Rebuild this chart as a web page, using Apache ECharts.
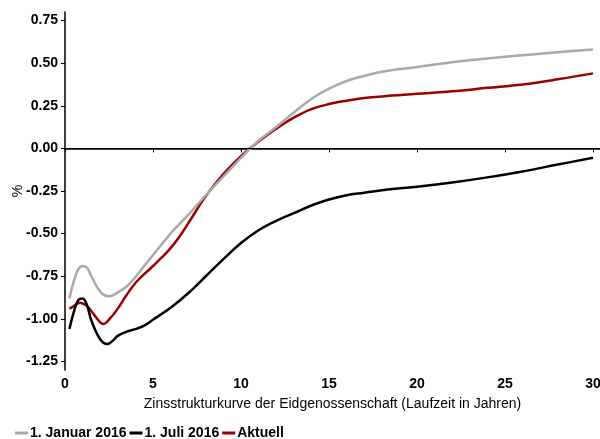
<!DOCTYPE html>
<html>
<head>
<meta charset="utf-8">
<script src="https://cdn.jsdelivr.net/npm/echarts@6/dist/echarts.min.js"></script>
<style>
    html, body { margin: 0; padding: 0; background: #fff; }
    #chart { width: 600px; height: 439px; }
</style>
</head>
<body>
<div id="chart"></div>
<script>
    // Laufzeit in Jahren
    var janX = [0.25, 0.5, 0.75, 1, 1.25, 1.5, 2, 2.5, 3, 3.5, 4, 4.5, 5, 5.5, 6, 7, 8, 9, 10, 11, 12, 13, 14, 15, 16, 17, 18, 20, 22, 24, 26, 28, 30];
    var janY = [-0.88, -0.78, -0.71, -0.69, -0.70, -0.75, -0.84, -0.868, -0.845, -0.81, -0.755, -0.69, -0.625, -0.562, -0.50, -0.39, -0.275, -0.165, -0.055, 0.045, 0.125, 0.21, 0.29, 0.35, 0.395, 0.425, 0.45, 0.478, 0.505, 0.527, 0.547, 0.564, 0.58];

    var julX = [0.25, 0.5, 0.75, 1, 1.25, 1.5, 2, 2.4, 2.75, 3, 3.5, 4, 4.5, 5, 6, 7, 8, 9, 10, 11, 12, 13, 14, 15, 16, 17, 18, 20, 22, 24, 26, 28, 30];
    var julY = [-1.06, -0.96, -0.89, -0.88, -0.92, -1.01, -1.12, -1.148, -1.125, -1.10, -1.075, -1.06, -1.04, -1.005, -0.935, -0.85, -0.75, -0.65, -0.555, -0.48, -0.425, -0.38, -0.335, -0.30, -0.275, -0.26, -0.245, -0.225, -0.20, -0.17, -0.135, -0.095, -0.055];

    var aktX = [0.25, 0.5, 0.85, 1.25, 1.5, 2, 2.2, 2.5, 3, 3.5, 4, 4.5, 5, 5.5, 6, 6.5, 7, 8, 9, 10, 11, 12, 13, 14, 15, 16, 17, 18, 20, 22, 24, 26, 28, 30];
    var aktY = [-0.94, -0.925, -0.905, -0.925, -0.955, -1.02, -1.03, -1.005, -0.94, -0.86, -0.79, -0.738, -0.69, -0.64, -0.585, -0.518, -0.44, -0.28, -0.15, -0.045, 0.04, 0.115, 0.18, 0.23, 0.26, 0.28, 0.295, 0.305, 0.32, 0.335, 0.355, 0.375, 0.405, 0.44];

    var xTicks = [0, 5, 10, 15, 20, 25, 30];
    var yTicks = [-1.25, -1, -0.75, -0.5, -0.25, 0, 0.25, 0.5, 0.75];

    function pairs(xs, ys) {
        var out = [];
        for (var i = 0; i < xs.length; i++) {
            out.push([xs[i], ys[i]]);
        }
        return out;
    }

    var font = '"Liberation Sans", Arial, sans-serif';

    var myChart = echarts.init(document.getElementById('chart'));
    myChart.setOption({
        animation: false,
        textStyle: { fontFamily: font },
        grid: { left: 65, right: 0, top: 12, bottom: 69, outerBoundsMode: 'none', containLabel: false },
        legend: {
            left: 15,
            top: 426,
            padding: 0,
            icon: 'rect',
            itemWidth: 13,
            itemHeight: 3,
            itemGap: 3,
            textStyle: { fontFamily: font, fontWeight: 'bold', fontSize: 14, color: '#000', padding: [0, 0, 0, -3] },
            data: ['1. Januar 2016', '1. Juli 2016', 'Aktuell']
        },
        xAxis: {
            type: 'value',
            min: 0,
            max: 30.4,
            name: 'Zinsstrukturkurve der Eidgenossenschaft (Laufzeit in Jahren)',
            nameLocation: 'middle',
            nameGap: 27,
            nameMoveOverlap: false,
            nameTextStyle: { fontFamily: font, fontSize: 14, color: '#000' },
            splitLine: { show: false },
            axisLine: { lineStyle: { color: '#000', width: 1.5 } },
            axisTick: { show: true, length: 4, lineStyle: { color: '#000' }, customValues: xTicks },
            axisLabel: { customValues: xTicks, fontFamily: font, fontWeight: 'bold', fontSize: 14, color: '#000', margin: 7 }
        },
        yAxis: {
            type: 'value',
            min: -1.3,
            max: 0.8,
            name: '%',
            nameLocation: 'middle',
            nameRotate: 90,
            nameGap: 40,
            nameMoveOverlap: false,
            nameTextStyle: { fontFamily: font, fontSize: 14, color: '#000' },
            splitLine: { show: false },
            axisLine: { show: true, onZero: false, lineStyle: { color: '#000', width: 1.5 } },
            axisTick: { show: true, length: 4, lineStyle: { color: '#000' }, customValues: yTicks },
            axisLabel: {
                customValues: yTicks,
                fontFamily: font, fontWeight: 'bold', fontSize: 14, color: '#000', margin: 7,
                formatter: function (v) { return v.toFixed(2); }
            }
        },
        series: [
            {
                name: '1. Januar 2016',
                type: 'line',
                z: 3,
                smooth: 0.4,
                showSymbol: false,
                color: '#aaaaaa',
                lineStyle: { width: 2.5, color: '#aaaaaa' },
                data: pairs(janX, janY),
                markLine: {
                    silent: true,
                    symbol: 'none',
                    label: { show: false },
                    lineStyle: { color: '#000', width: 1, type: 'solid' },
                    data: [{ yAxis: 0 }]
                }
            },
            {
                name: '1. Juli 2016',
                type: 'line',
                z: 4,
                smooth: 0.4,
                showSymbol: false,
                color: '#000000',
                lineStyle: { width: 2.5, color: '#000000' },
                data: pairs(julX, julY)
            },
            {
                name: 'Aktuell',
                type: 'line',
                z: 2,
                smooth: 0.4,
                showSymbol: false,
                color: '#990000',
                lineStyle: { width: 2.5, color: '#990000' },
                data: pairs(aktX, aktY)
            }
        ]
    });
</script>
</body>
</html>
